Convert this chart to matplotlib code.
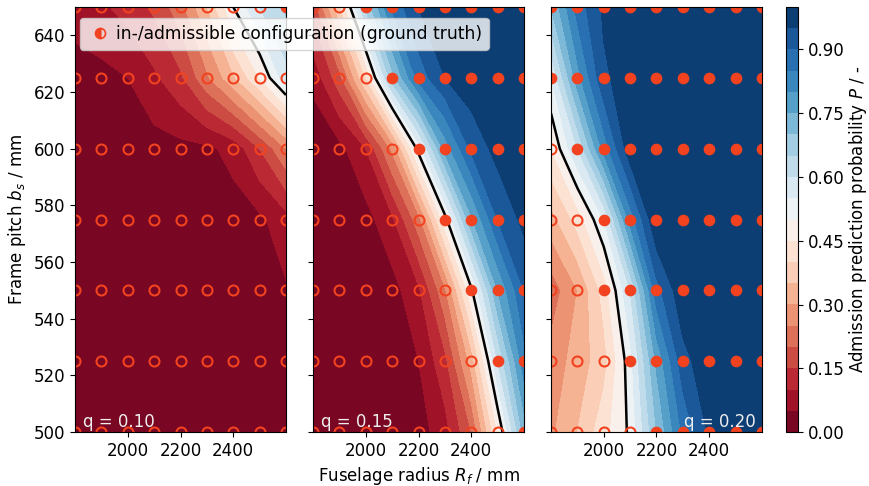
import numpy as np
import matplotlib
matplotlib.use("Agg")
import matplotlib.pyplot as plt
from matplotlib.lines import Line2D

plt.rcParams['font.size'] = 12

# grid of evaluated configurations
radius = [1800, 1900, 2000, 2100, 2200, 2300, 2400, 2500, 2600]
pitch = [500, 525, 550, 575, 600, 625, 650]

# predicted admission probability, rows = pitch (500 -> 650), cols = radius
p_q10 = [
    [0.00, 0.00, 0.00, 0.00, 0.00, 0.00, 0.00, 0.00, 0.01],
    [0.00, 0.00, 0.00, 0.00, 0.00, 0.00, 0.00, 0.01, 0.02],
    [0.00, 0.00, 0.00, 0.00, 0.00, 0.01, 0.02, 0.03, 0.045],
    [0.00, 0.00, 0.00, 0.00, 0.01, 0.02, 0.03, 0.04, 0.08],
    [0.01, 0.01, 0.02, 0.03, 0.035, 0.04, 0.065, 0.15, 0.25],
    [0.03, 0.035, 0.05, 0.09, 0.14, 0.24, 0.34, 0.45, 0.58],
    [0.07, 0.09, 0.12, 0.16, 0.23, 0.35, 0.50, 0.60, 0.66],
]
p_q15 = [
    [0.00, 0.00, 0.003, 0.008, 0.027, 0.08, 0.20, 0.45, 0.72],
    [0.00, 0.00, 0.005, 0.016, 0.05, 0.135, 0.32, 0.60, 0.83],
    [0.00, 0.00, 0.01, 0.03, 0.09, 0.24, 0.49, 0.75, 0.90],
    [0.003, 0.01, 0.03, 0.09, 0.23, 0.48, 0.74, 0.90, 0.965],
    [0.011, 0.034, 0.10, 0.26, 0.52, 0.77, 0.91, 0.97, 0.99],
    [0.065, 0.18, 0.40, 0.68, 0.87, 0.95, 0.985, 0.995, 1.00],
    [0.17, 0.39, 0.66, 0.86, 0.95, 0.985, 0.995, 1.00, 1.00],
]
p_q20 = [
    [0.29, 0.35, 0.43, 0.51, 0.70, 0.86, 0.96, 0.99, 1.00],
    [0.27, 0.32, 0.38, 0.53, 0.76, 0.93, 0.99, 1.00, 1.00],
    [0.22, 0.30, 0.42, 0.60, 0.88, 0.99, 1.00, 1.00, 1.00],
    [0.33, 0.42, 0.55, 0.82, 1.00, 1.00, 1.00, 1.00, 1.00],
    [0.45, 0.60, 0.82, 0.985, 1.00, 1.00, 1.00, 1.00, 1.00],
    [0.55, 0.78, 0.94, 0.98, 1.00, 1.00, 1.00, 1.00, 1.00],
    [0.70, 0.87, 0.96, 0.99, 1.00, 1.00, 1.00, 1.00, 1.00],
]

# ground truth: 1 = admissible, 0 = inadmissible
adm_q10 = [
    [0, 0, 0, 0, 0, 0, 0, 0, 0],
    [0, 0, 0, 0, 0, 0, 0, 0, 0],
    [0, 0, 0, 0, 0, 0, 0, 0, 0],
    [0, 0, 0, 0, 0, 0, 0, 0, 0],
    [0, 0, 0, 0, 0, 0, 0, 0, 0],
    [0, 0, 0, 0, 0, 0, 0, 0, 0],
    [0, 0, 0, 0, 0, 0, 0, 0, 1],
]
adm_q15 = [
    [0, 0, 0, 0, 0, 0, 0, 0, 1],
    [0, 0, 0, 0, 0, 0, 0, 1, 1],
    [0, 0, 0, 0, 0, 0, 1, 1, 1],
    [0, 0, 0, 0, 0, 1, 1, 1, 1],
    [0, 0, 0, 0, 1, 1, 1, 1, 1],
    [0, 0, 0, 1, 1, 1, 1, 1, 1],
    [0, 0, 1, 1, 1, 1, 1, 1, 1],
]
adm_q20 = [
    [0, 0, 0, 0, 1, 1, 1, 1, 1],
    [0, 0, 0, 1, 1, 1, 1, 1, 1],
    [0, 0, 1, 1, 1, 1, 1, 1, 1],
    [0, 0, 1, 1, 1, 1, 1, 1, 1],
    [0, 1, 1, 1, 1, 1, 1, 1, 1],
    [1, 1, 1, 1, 1, 1, 1, 1, 1],
    [1, 1, 1, 1, 1, 1, 1, 1, 1],
]

q_labels = ["q = 0.10", "q = 0.15", "q = 0.20"]
cbar_ticks = [0.00, 0.15, 0.30, 0.45, 0.60, 0.75, 0.90]
x_ticks = [2000, 2200, 2400]
y_ticks = [500, 520, 540, 560, 580, 600, 620, 640]

pt_color = '#f2421f'
levels = np.linspace(0, 1, 21)

fig = plt.figure(figsize=(8.7, 4.86), dpi=100)
W, H = 870, 486
lefts = [75, 313, 551]
axes = [fig.add_axes([l / W, (H - 432) / H, 211 / W, 425 / H]) for l in lefts]
cax = fig.add_axes([786 / W, (H - 432) / H, 12 / W, 425 / H])

X, Y = np.meshgrid(radius, pitch)
probs = [p_q10, p_q15, p_q20]
adms = [adm_q10, adm_q15, adm_q20]

for i, ax in enumerate(axes):
    P = np.array(probs[i])
    A = np.array(adms[i]).astype(bool)
    cs = ax.contourf(X, Y, P, levels=levels, cmap='RdBu')
    ax.contour(X, Y, P, levels=[0.5], colors='k', linewidths=1.8)
    ax.plot(X[A], Y[A], 'o', ls='none', ms=7.2, mfc=pt_color, mec=pt_color, mew=1.2)
    ax.plot(X[~A], Y[~A], 'o', ls='none', ms=7.2, mfc='none', mec=pt_color, mew=1.5)
    ax.set_xlim(1800, 2600)
    ax.set_ylim(500, 650)
    ax.set_xticks(x_ticks)
    ax.set_yticks(y_ticks)
    if i > 0:
        ax.set_yticklabels([])
    if i == 2:
        ax.text(0.97, 0.012, q_labels[i], transform=ax.transAxes, color='#eeeeee',
                ha='right', va='baseline', fontsize=12)
    else:
        ax.text(0.038, 0.012, q_labels[i], transform=ax.transAxes, color='#eeeeee',
                ha='left', va='baseline', fontsize=12)

axes[0].set_ylabel("Frame pitch $b_s$ / mm")
axes[1].set_xlabel("Fuselage radius $R_f$ / mm")

cb = fig.colorbar(cs, cax=cax, ticks=cbar_ticks)
cb.ax.set_yticklabels(["%.2f" % t for t in cbar_ticks])
cb.set_label("Admission prediction probability $P$ / -", labelpad=2)

handle = Line2D([], [], marker='o', ls='none', ms=7.2, fillstyle='left',
                mfc=pt_color, mec=pt_color, mfcalt='none', mew=1.2)
fig.legend([handle], ["in-/admissible configuration (ground truth)"],
           loc='upper left', bbox_to_anchor=(80 / W, 1 - 18 / H), borderaxespad=0,
           handletextpad=0.1, handlelength=1.6, fontsize=12.3)

fig.savefig("out.png", dpi=100)
